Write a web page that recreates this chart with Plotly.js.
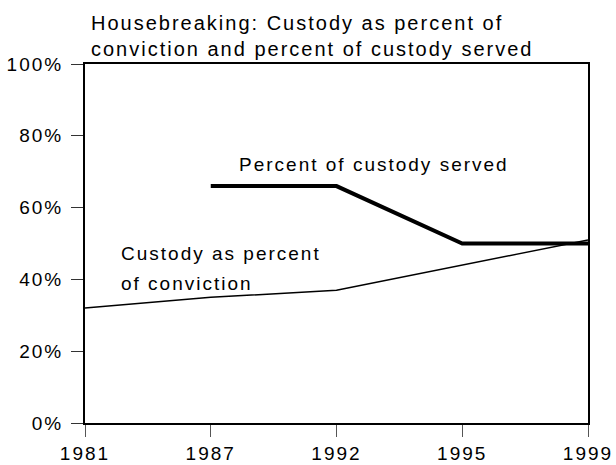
<!DOCTYPE html>
<html>
<head>
<meta charset="utf-8">
<script src="https://cdn.plot.ly/plotly-3.0.1.min.js"></script>
<style>
  html, body { margin: 0; padding: 0; background: #fff; }
  #chart { width: 616px; height: 465px; }
  .main-svg text { letter-spacing: 2px; }
</style>
</head>
<body>
<div id="chart"></div>
<script>
const years = ['1981', '1987', '1992', '1995', '1999'];
const custodyPctConviction = [32, 35, 37, 44, 51];
const pctCustodyServed = [null, 66, 66, 50, 50];
const yTickVals = [0, 20, 40, 60, 80, 100];
const yTickText = ['0%', '20%', '40%', '60%', '80%', '100%'];
const titleText = 'Housebreaking: Custody as percent of<br>conviction and percent of custody served';
const labelServed = 'Percent of custody served';
const labelConvictionLines = ['Custody as percent', 'of conviction'];

const font = {family: '"Liberation Sans", Arial, Helvetica, sans-serif', size: 19, color: '#000'};

const traces = [
  {
    x: years, y: custodyPctConviction, type: 'scatter', mode: 'lines',
    line: {color: '#000', width: 1.5}, hoverinfo: 'skip', cliponaxis: false
  },
  {
    x: years, y: pctCustodyServed, type: 'scatter', mode: 'lines',
    line: {color: '#000', width: 4}, connectgaps: false, hoverinfo: 'skip', cliponaxis: false
  }
];

const layout = {
  width: 616, height: 465,
  margin: {l: 85, r: 28, t: 64, b: 42, pad: 0},
  paper_bgcolor: '#fff', plot_bgcolor: '#fff',
  showlegend: false,
  font: font,
  title: {
    text: titleText,
    font: {family: font.family, size: 20, color: '#000'},
    xref: 'container', x: 91 / 616, xanchor: 'left',
    yref: 'container', y: 0.936, yanchor: 'top'
  },
  xaxis: {
    type: 'category', range: [0, 4],
    showgrid: false, zeroline: false,
    showline: true, linecolor: '#000', linewidth: 2, mirror: true,
    ticks: 'outside', ticklen: 12, tickwidth: 1, tickcolor: '#555',
    tickfont: font, fixedrange: true
  },
  yaxis: {
    range: [0, 100],
    tickvals: yTickVals, ticktext: yTickText,
    showgrid: false, zeroline: false,
    showline: true, linecolor: '#000', linewidth: 2, mirror: true,
    ticks: 'outside', ticklen: 12, tickwidth: 1, tickcolor: '#333',
    tickfont: font, ticklabelstandoff: 4, fixedrange: true
  },
  annotations: [
    {text: labelServed, xref: 'paper', yref: 'y', x: (238 - 85) / 503, y: 72,
     xanchor: 'left', yanchor: 'middle', align: 'left', showarrow: false, font: font, borderpad: 0},
    {text: labelConvictionLines[0], xref: 'paper', yref: 'y', x: (120 - 85) / 503, y: 47.3,
     xanchor: 'left', yanchor: 'middle', align: 'left', showarrow: false, font: font, borderpad: 0},
    {text: labelConvictionLines[1], xref: 'paper', yref: 'y', x: (120 - 85) / 503, y: 38.8,
     xanchor: 'left', yanchor: 'middle', align: 'left', showarrow: false, font: font, borderpad: 0}
  ]
};

Plotly.newPlot('chart', traces, layout, {displayModeBar: false, staticPlot: true});
</script>
</body>
</html>
